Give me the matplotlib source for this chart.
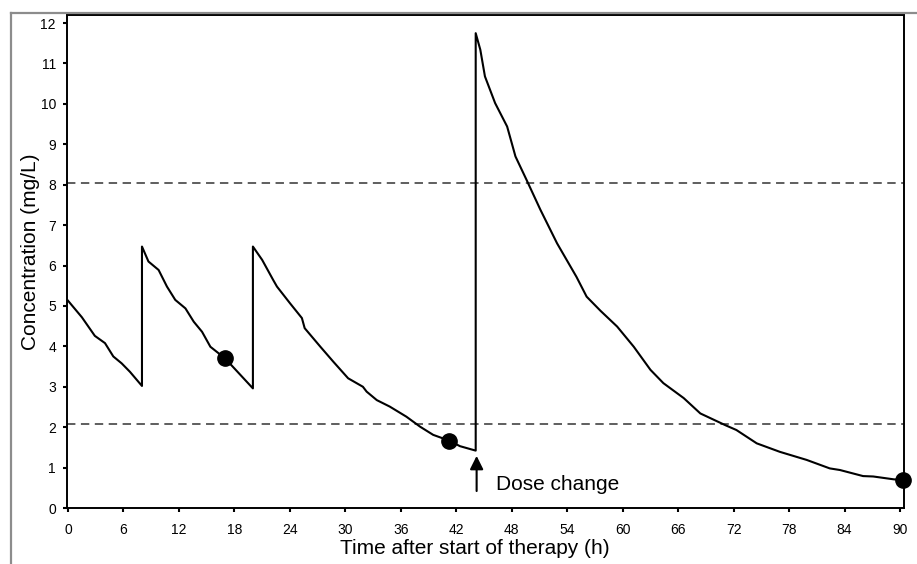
import matplotlib
matplotlib.use("Agg")
import matplotlib.pyplot as plt
from matplotlib.lines import Line2D

plt.rcParams['font.family'] = ['Liberation Sans', 'DejaVu Sans']

# ---- data ----
time_h = [0, 1.5, 2.9, 4.0, 4.9, 5.8, 6.7, 8.0, 8.0, 8.7, 9.8, 10.7, 11.6, 12.7, 13.6,
          14.5, 15.4, 17.0, 20.0, 20.0, 21.0, 22.2, 22.6, 24.0, 25.3, 25.6, 27.3, 28.7,
          30.3, 31.9, 32.3, 33.4, 34.8, 36.6, 38.1, 39.5, 41.2, 42.4, 44.1, 44.1, 44.6,
          45.1, 46.2, 47.5, 48.0, 48.4, 49.6, 51.1, 52.9, 55.0, 56.1, 57.6, 59.4, 61.2,
          63.0, 64.4, 66.6, 68.4, 71.1, 72.3, 74.5, 77.0, 79.9, 82.4, 83.5, 86.0, 87.1,
          89.3, 90.3]
conc = [5.13, 4.72, 4.26, 4.08, 3.75, 3.58, 3.37, 3.02, 6.47, 6.10, 5.89, 5.48, 5.15, 4.94,
        4.61, 4.36, 3.99, 3.70, 2.96, 6.47, 6.14, 5.64, 5.48, 5.07, 4.70, 4.45, 3.99, 3.62,
        3.21, 3.00, 2.88, 2.67, 2.51, 2.26, 2.01, 1.81, 1.67, 1.53, 1.42, 11.75, 11.34,
        10.68, 10.02, 9.44, 9.03, 8.70, 8.12, 7.38, 6.55, 5.72, 5.23, 4.88, 4.49, 3.99,
        3.42, 3.09, 2.72, 2.34, 2.05, 1.93, 1.60, 1.39, 1.19, 0.98, 0.94, 0.79, 0.78,
        0.71, 0.69]
obs_time = [17.0, 41.2, 90.3]
obs_conc = [3.70, 1.67, 0.69]
thresholds = [8.05, 2.07]
dose_change_time = 44.2
x_ticks = list(range(0, 91, 6))
y_ticks = list(range(0, 13))

fig = plt.figure(figsize=(9.17, 5.64), dpi=100)
ax = fig.add_axes([67/917, 1-508/564, (904-67)/917, (508-15)/564])

# outer gray frame (top & left only visible)
fig.add_artist(Line2D([11/917, 11/917], [0, 1-12.5/564], transform=fig.transFigure,
                      color='#8c8c8c', lw=1.6))
fig.add_artist(Line2D([11/917, 1], [1-12.5/564, 1-12.5/564], transform=fig.transFigure,
                      color='#8c8c8c', lw=1.6))

for th in thresholds:
    ax.axhline(th, color='#333333', lw=1.1, dashes=(5.5, 3.6), zorder=1)

ax.plot(time_h, conc, color='black', lw=1.5, zorder=3)
ax.plot(obs_time, obs_conc, 'o', color='black', ms=11, clip_on=False, zorder=4)

ax.annotate('', xy=(dose_change_time, 1.29), xytext=(dose_change_time, 0.42),
            arrowprops=dict(arrowstyle='-|>', color='black', lw=1.5,
                            mutation_scale=20, shrinkA=0, shrinkB=0))
ax.text(46.3, 0.59, 'Dose change', fontsize=15, va='center', ha='left')

ax.set_xlim(-0.11, 90.43)
ax.set_ylim(0, 12.2)
ax.set_xticks(x_ticks)
ax.set_yticks(y_ticks)
ax.tick_params(axis='x', direction='out', length=3, width=1.5, labelsize=10, pad=8)
ax.tick_params(axis='y', direction='out', length=3, width=1.5, labelsize=10, pad=5)
for s in ax.spines.values():
    s.set_linewidth(1.4)

ax.set_xlabel('Time after start of therapy (h)', fontsize=15)
ax.set_ylabel('Concentration (mg/L)', fontsize=15)
ax.xaxis.set_label_coords(0.4875, -0.062)
ax.yaxis.set_label_coords(-0.032, 0.52)

fig.savefig('out.png', dpi=100)
